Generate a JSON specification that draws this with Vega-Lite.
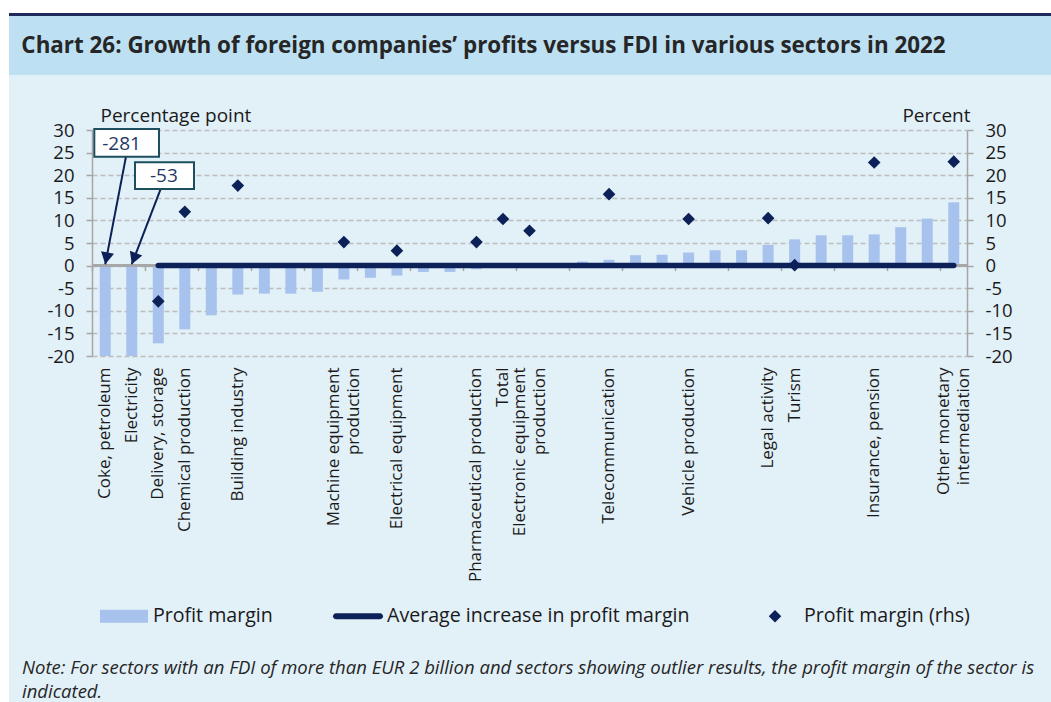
{
  "$schema": "https://vega.github.io/schema/vega-lite/v6.json",
  "background": "#e2f0f8",
  "padding": 0,
  "spacing": 0,
  "config": {
    "view": {"stroke": null},
    "font": "Open Sans",
    "axis": {"labelFont": "Open Sans", "titleFont": "Open Sans", "labelColor": "#1a1a1a", "titleColor": "#1a1a1a"}
  },
  "datasets": {
    "sectors": [
      {"sector": "Coke, petroleum", "pm": -281, "rhs": null, "avg": null},
      {"sector": "Electricity", "pm": -53, "rhs": null, "avg": null},
      {"sector": "Delivery, storage", "pm": -17.2, "rhs": -7.9, "avg": 0},
      {"sector": "Chemical production", "pm": -14.1, "rhs": 11.9, "avg": 0},
      {"sector": "(sector 5)", "pm": -11.0, "rhs": null, "avg": 0},
      {"sector": "Building industry", "pm": -6.4, "rhs": 17.7, "avg": 0},
      {"sector": "(sector 7)", "pm": -6.2, "rhs": null, "avg": 0},
      {"sector": "(sector 8)", "pm": -6.2, "rhs": null, "avg": 0},
      {"sector": "(sector 9)", "pm": -5.8, "rhs": null, "avg": 0},
      {"sector": "Machine equipment|production", "pm": -3.1, "rhs": 5.2, "avg": 0},
      {"sector": "(sector 11)", "pm": -2.7, "rhs": null, "avg": 0},
      {"sector": "Electrical equipment", "pm": -2.2, "rhs": 3.3, "avg": 0},
      {"sector": "(sector 13)", "pm": -1.4, "rhs": null, "avg": 0},
      {"sector": "(sector 14)", "pm": -1.4, "rhs": null, "avg": 0},
      {"sector": "Pharmaceutical production", "pm": -0.8, "rhs": 5.2, "avg": 0},
      {"sector": "Total", "pm": -0.4, "rhs": 10.3, "avg": 0},
      {"sector": "Electronic equipment|production", "pm": 0.2, "rhs": 7.7, "avg": 0},
      {"sector": "(sector 18)", "pm": 0.5, "rhs": null, "avg": 0},
      {"sector": "(sector 19)", "pm": 0.9, "rhs": null, "avg": 0},
      {"sector": "Telecommunication", "pm": 1.3, "rhs": 15.8, "avg": 0},
      {"sector": "(sector 21)", "pm": 2.3, "rhs": null, "avg": 0},
      {"sector": "(sector 22)", "pm": 2.4, "rhs": null, "avg": 0},
      {"sector": "Vehicle production", "pm": 2.9, "rhs": 10.3, "avg": 0},
      {"sector": "(sector 24)", "pm": 3.4, "rhs": null, "avg": 0},
      {"sector": "(sector 25)", "pm": 3.4, "rhs": null, "avg": 0},
      {"sector": "Legal activity", "pm": 4.6, "rhs": 10.5, "avg": 0},
      {"sector": "Turism", "pm": 5.8, "rhs": 0.1, "avg": 0},
      {"sector": "(sector 28)", "pm": 6.7, "rhs": null, "avg": 0},
      {"sector": "(sector 29)", "pm": 6.7, "rhs": null, "avg": 0},
      {"sector": "Insurance, pension", "pm": 6.9, "rhs": 22.8, "avg": 0},
      {"sector": "(sector 31)", "pm": 8.5, "rhs": null, "avg": 0},
      {"sector": "(sector 32)", "pm": 10.4, "rhs": null, "avg": 0},
      {"sector": "Other monetary|intermediation", "pm": 14.0, "rhs": 23.0, "avg": 0}
    ],
    "notes": [
      {"label": "-281", "bx1": -0.413, "bx2": 2.027, "by1": 30.22, "by2": 24.1, "tx": 0.613, "ty": 27.0, "ax": 0.782, "ay": 24.1, "hx": 0.0, "hy": 0.3},
      {"label": "-53", "bx1": 1.122, "bx2": 3.347, "by1": 22.84, "by2": 16.97, "tx": 2.21, "ty": 19.9, "ax": 2.091, "ay": 16.97, "hx": 1.0, "hy": 0.3}
    ]
  },
  "hconcat": [
    {
      "width": 9, "height": 702,
      "view": {"fill": "white", "stroke": null},
      "data": {"values": [{}]},
      "mark": {"type": "rect", "color": "white"},
      "encoding": {}
    },
    {
      "spacing": 31,
      "vconcat": [
        {
          "spacing": 0,
          "vconcat": [
            {
              "width": 1042, "height": 13,
              "view": {"fill": "white", "stroke": null},
              "data": {"values": [{}]},
              "mark": {"type": "rect", "color": "white"},
              "encoding": {}
            },
            {
              "width": 1042, "height": 3,
              "view": {"fill": "#1e2a5a", "stroke": null},
              "data": {"values": [{}]},
              "mark": {"type": "rect", "color": "#1e2a5a"},
              "encoding": {}
            },
            {
              "spacing": 0,
              "hconcat": [
                {
                  "width": 949, "height": 59,
                  "view": {"fill": "#bde0f3", "stroke": null},
                  "data": {"values": [{"t": "Chart 26: Growth of foreign companies’ profits versus FDI in various sectors in 2022"}]},
                  "mark": {"type": "text", "font": "Open Sans", "fontWeight": "bold", "fontSize": 22.4, "color": "#262626"},
                  "encoding": {"text": {"field": "t"}}
                },
                {
                  "width": 93, "height": 59,
                  "view": {"fill": "#bde0f3", "stroke": null},
                  "data": {"values": [{}]},
                  "mark": {"type": "rect", "color": "#bde0f3"},
                  "encoding": {}
                }
              ]
            }
          ]
        },
        {
          "spacing": 0,
          "hconcat": [
            {
              "width": 13, "height": 1,
              "data": {"values": [{}]},
              "mark": {"type": "rect", "opacity": 0},
              "encoding": {}
            },
            {
              "width": 875,
              "height": 226,
              "title": {
                "text": ["Note: For sectors with an FDI of more than EUR 2 billion and sectors showing outlier results, the profit margin of the sector is", "indicated."],
                "orient": "bottom", "anchor": "start", "frame": "group", "dx": -70, "offset": 77,
                "font": "Open Sans", "fontSize": 18.5, "fontStyle": "italic", "fontWeight": "normal",
                "color": "#262626", "lineHeight": 24
              },
              "layer": [
                {
                  "data": {"name": "sectors"},
                  "layer": [
                    {
                      "mark": {"type": "bar", "width": 11, "clip": true},
                      "encoding": {
                        "x": {
                          "field": "sector", "type": "nominal",
                          "scale": {
                            "domain": ["Coke, petroleum", "Electricity", "Delivery, storage", "Chemical production", "(sector 5)", "Building industry", "(sector 7)", "(sector 8)", "(sector 9)", "Machine equipment|production", "(sector 11)", "Electrical equipment", "(sector 13)", "(sector 14)", "Pharmaceutical production", "Total", "Electronic equipment|production", "(sector 18)", "(sector 19)", "Telecommunication", "(sector 21)", "(sector 22)", "Vehicle production", "(sector 24)", "(sector 25)", "Legal activity", "Turism", "(sector 28)", "(sector 29)", "Insurance, pension", "(sector 31)", "(sector 32)", "Other monetary|intermediation"],
                            "paddingInner": 0, "paddingOuter": 0
                          },
                          "axis": {
                            "title": null, "grid": false, "domain": false, "ticks": false,
                            "labelAngle": 270, "labelPadding": 11, "labelFontSize": 17, "labelLineHeight": 20,
                            "labelOverlap": false, "labelLimit": 400,
                            "labelOffset": {"condition": {"test": "indexof(datum.value, '|') >= 0", "value": -10}, "value": 0},
                            "labelExpr": "indexof(datum.value, '(') == 0 ? '' : split(datum.value, '|')"
                          }
                        },
                        "y": {
                          "field": "pm", "type": "quantitative",
                          "scale": {"domain": [-20, 30], "nice": false},
                          "axis": {
                            "title": "Percentage point", "values": [-20, -15, -10, -5, 0, 5, 10, 15, 20, 25, 30],
                            "grid": true, "gridDash": [5, 3], "gridColor": "#bdbdbd", "gridWidth": 1.3,
                            "domainColor": "#a6a6a6", "domainWidth": 1.5,
                            "tickColor": "#a6a6a6", "tickSize": 6, "tickWidth": 1.5,
                            "labelPadding": 12, "labelFontSize": 18.5, "labelOverlap": false,
                            "labelExpr": "datum.value < 0 ? '-' + abs(datum.value) : '' + datum.value",
                            "titleAngle": 0, "titleAlign": "left", "titleBaseline": "alphabetic",
                            "titleX": 8, "titleY": -8.6, "titleFontWeight": "normal", "titleFontSize": 19
                          }
                        },
                        "color": {
                          "datum": "Profit margin", "type": "nominal",
                          "scale": {
                            "domain": ["Profit margin", "Average increase in profit margin", "Profit margin (rhs)"],
                            "range": ["#a8c2ee", "#0b2157", "#0b2157"]
                          },
                          "legend": {
                            "title": null, "orient": "none", "legendX": 99, "legendY": 591, "direction": "horizontal",
                            "symbolSize": 2500, "labelFont": "Open Sans", "labelFontSize": 19.6, "labelColor": "#1a1a1a",
                            "labelOffset": 4, "columnPadding": 60, "labelLimit": 500,
                            "encode": {
                              "symbols": {
                                "update": {
                                  "shape": {"signal": "datum.value === 'Profit margin' ? 'M-0.96,-0.26H0.96V0.26H-0.96Z' : datum.value === 'Average increase in profit margin' ? 'M-0.88,-0.12H0.88A0.12,0.12 0 0 1 0.88,0.12H-0.88A0.12,0.12 0 0 1 -0.88,-0.12Z' : 'M0,-0.25L0.25,0L0,0.25L-0.25,0Z'"},
                                  "fill": {"signal": "datum.value === 'Profit margin' ? '#a8c2ee' : '#0b2157'"},
                                  "stroke": {"value": "transparent"},
                                  "strokeWidth": {"value": 0},
                                  "opacity": {"value": 1},
                                  "size": {"value": 2500}
                                }
                              }
                            }
                          }
                        }
                      }
                    },
                    {
                      "mark": {"type": "rule", "color": "#a6a6a6", "strokeWidth": 1.5},
                      "encoding": {
                        "y": {"datum": 0, "type": "quantitative", "scale": {"domain": [-20, 30], "nice": false}, "axis": null}
                      }
                    },
                    {
                      "transform": [{"filter": "datum.avg != null"}],
                      "mark": {"type": "line", "strokeWidth": 5.5, "strokeCap": "round"},
                      "encoding": {
                        "x": {"field": "sector", "type": "nominal"},
                        "y": {"field": "avg", "type": "quantitative", "scale": {"domain": [-20, 30], "nice": false}, "axis": null},
                        "color": {"datum": "Average increase in profit margin", "type": "nominal"}
                      }
                    },
                    {
                      "transform": [{"filter": "datum.rhs != null"}],
                      "mark": {"type": "point", "shape": "diamond", "filled": true, "size": 160, "opacity": 1},
                      "encoding": {
                        "x": {"field": "sector", "type": "nominal"},
                        "y": {
                          "field": "rhs", "type": "quantitative",
                          "scale": {"domain": [-20, 30], "nice": false},
                          "axis": {
                            "orient": "right", "title": "Percent", "values": [-20, -15, -10, -5, 0, 5, 10, 15, 20, 25, 30],
                            "grid": false,
                            "domainColor": "#a6a6a6", "domainWidth": 1.5,
                            "tickColor": "#a6a6a6", "tickSize": 6, "tickWidth": 1.5,
                            "labelPadding": 12, "labelFontSize": 18.5, "labelOverlap": false,
                            "labelExpr": "datum.value < 0 ? '-' + abs(datum.value) : '' + datum.value",
                            "titleAngle": 0, "titleAlign": "right", "titleBaseline": "alphabetic",
                            "titleX": 3, "titleY": -8.6, "titleFontWeight": "normal", "titleFontSize": 19
                          }
                        },
                        "color": {"datum": "Profit margin (rhs)", "type": "nominal"}
                      }
                    }
                  ],
                  "resolve": {"scale": {"y": "independent"}}
                },
                {
                  "data": {"name": "notes"},
                  "layer": [
                    {
                      "mark": {"type": "rule", "strokeWidth": 2, "color": "#0b2157"},
                      "encoding": {
                        "x": {
                          "field": "ax", "type": "quantitative",
                          "scale": {"domain": [-0.5, 32.5], "nice": false, "zero": false},
                          "axis": {
                            "orient": "bottom", "offset": -90.4, "title": null, "grid": false,
                            "labels": false, "domain": false, "ticks": true,
                            "tickSize": 5, "tickColor": "#a6a6a6", "tickWidth": 1.5,
                            "values": [-0.5, 0.5, 1.5, 2.5, 3.5, 4.5, 5.5, 6.5, 7.5, 8.5, 9.5, 10.5, 11.5, 12.5, 13.5, 14.5, 15.5, 16.5, 17.5, 18.5, 19.5, 20.5, 21.5, 22.5, 23.5, 24.5, 25.5, 26.5, 27.5, 28.5, 29.5, 30.5, 31.5, 32.5]
                          }
                        },
                        "y": {"field": "ay", "type": "quantitative", "scale": {"domain": [-20, 30], "nice": false, "zero": false}, "axis": null},
                        "x2": {"field": "hx"},
                        "y2": {"field": "hy"}
                      }
                    },
                    {
                      "transform": [{"filter": "datum.label === '-281'"}],
                      "mark": {"type": "point", "shape": "M0,0L-0.55,-1L0.55,-1Z", "filled": true, "size": 576, "color": "#0b2157", "opacity": 1, "angle": 11},
                      "encoding": {
                        "x": {"field": "hx", "type": "quantitative"},
                        "y": {"field": "hy", "type": "quantitative"}
                      }
                    },
                    {
                      "transform": [{"filter": "datum.label === '-53'"}],
                      "mark": {"type": "point", "shape": "M0,0L-0.55,-1L0.55,-1Z", "filled": true, "size": 576, "color": "#0b2157", "opacity": 1, "angle": 21},
                      "encoding": {
                        "x": {"field": "hx", "type": "quantitative"},
                        "y": {"field": "hy", "type": "quantitative"}
                      }
                    },
                    {
                      "mark": {"type": "rect", "fill": "white", "stroke": "#1d4e5e", "strokeWidth": 2},
                      "encoding": {
                        "x": {"field": "bx1", "type": "quantitative"},
                        "x2": {"field": "bx2"},
                        "y": {"field": "by1", "type": "quantitative"},
                        "y2": {"field": "by2"}
                      }
                    },
                    {
                      "mark": {"type": "text", "font": "Open Sans", "fontSize": 19, "color": "#1f3864"},
                      "encoding": {
                        "x": {"field": "tx", "type": "quantitative"},
                        "y": {"field": "ty", "type": "quantitative"},
                        "text": {"field": "label"}
                      }
                    }
                  ]
                }
              ],
              "resolve": {"scale": {"x": "independent", "y": "independent"}}
            }
          ]
        }
      ]
    }
  ]
}
